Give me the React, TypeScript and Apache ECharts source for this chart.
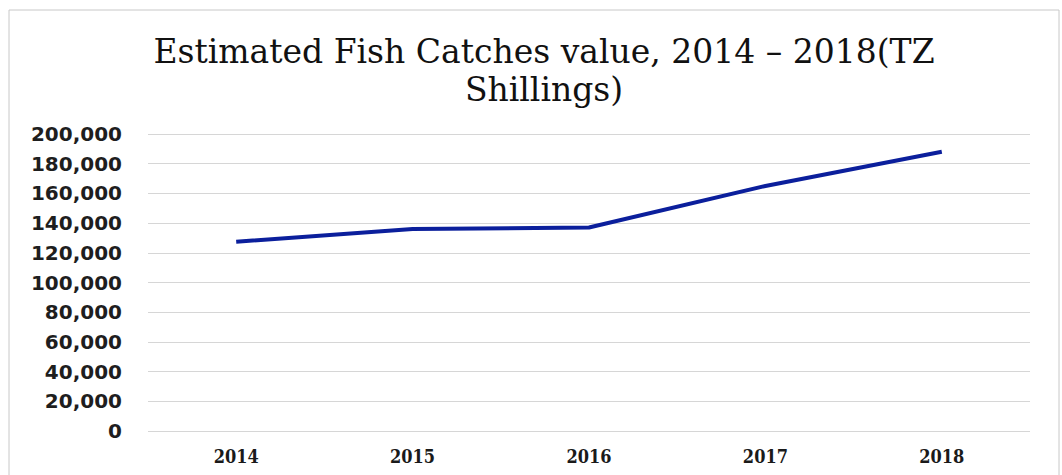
import React, { useEffect, useRef } from "react";
import * as echarts from "echarts";

const years = ["2014", "2015", "2016", "2017", "2018"];
const catchValues = [127500, 136000, 137000, 165000, 188000];
const yTicks = { min: 0, max: 200000, interval: 20000 };
const titleText = "Estimated Fish Catches value, 2014 – 2018(TZ\nShillings)";

export default function App() {
  const ref = useRef<HTMLDivElement>(null);
  useEffect(() => {
    document.body.style.margin = "0";
    const chart = echarts.init(ref.current!, null, { renderer: "svg" });
    chart.setOption({
      animation: false,
      backgroundColor: "#ffffff",
      title: {
        text: titleText,
        left: 539,
        textAlign: "center",
        top: 27,
        textStyle: {
          fontFamily: "DejaVu Serif",
          fontSize: 33,
          fontWeight: "normal",
          color: "#111111",
          lineHeight: 38,
        },
      },
      graphic: [
        {
          type: "rect",
          shape: { x: 9, y: 10, width: 1050, height: 470 },
          style: { fill: "none", stroke: "#c8c8c8", lineWidth: 1 },
          silent: true,
        },
      ],
      grid: { left: 148, right: 32, top: 134, bottom: 44 },
      xAxis: {
        type: "category",
        data: years,
        boundaryGap: true,
        axisLine: { show: false },
        axisTick: { show: false },
        axisLabel: {
          margin: 16,
          fontFamily: "DejaVu Serif Condensed, DejaVu Serif",
          fontWeight: "bold",
          fontSize: 18,
          color: "#1a1a1a",
        },
      },
      yAxis: {
        type: "value",
        min: yTicks.min,
        max: yTicks.max,
        interval: yTicks.interval,
        axisLine: { show: false },
        axisTick: { show: false },
        splitLine: { lineStyle: { color: "#d6d6d6", width: 1 } },
        axisLabel: {
          margin: 26,
          fontFamily: "DejaVu Sans",
          fontWeight: "bold",
          fontSize: 20,
          color: "#1e1e1e",
          formatter: (v: number) => v.toLocaleString("en-US"),
        },
      },
      series: [
        {
          type: "line",
          data: catchValues,
          symbol: "none",
          lineStyle: { color: "#0b1f9c", width: 4 },
        },
      ],
    });
    return () => chart.dispose();
  }, []);
  return <div ref={ref} style={{ width: 1062, height: 475 }} />;
}
